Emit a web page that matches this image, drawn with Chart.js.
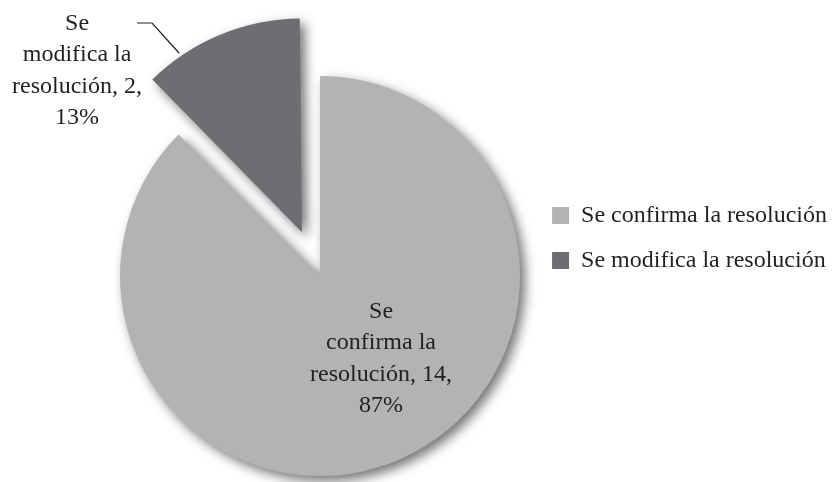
<!DOCTYPE html>
<html>
<head>
<meta charset="utf-8">
<script src="https://cdn.jsdelivr.net/npm/chart.js@4.4.0/dist/chart.umd.min.js"></script>
<style>
  html, body { margin: 0; padding: 0; background: #fff; }
  #wrap { width: 837px; height: 482px; }
</style>
</head>
<body>
<div id="wrap"><canvas id="pieChart" width="837" height="482"></canvas></div>
<script>
// --- DATOS ---
const CATEGORIES = ['Se confirma la resolución', 'Se modifica la resolución'];
const COUNTS = [14, 2];
const PERCENTS = ['87%', '13%'];
const LABEL_LINES = [
  ['Se', 'confirma la', 'resolución, 14,', '87%'],
  ['Se', 'modifica la', 'resolución, 2,', '13%']
];

const SLICE_COLORS = ['#b2b3b5', '#6d6e71'];
const TEXT_COLOR = '#231f20';
const FONT = "'Liberation Serif', 'DejaVu Serif', serif";

// sombra bajo las porciones
const shadowPlugin = {
  id: 'pieShadow',
  beforeDatasetsDraw(chart) {
    const ctx = chart.ctx;
    ctx.save();
    ctx.shadowColor = 'rgba(0,0,0,0.55)';
    ctx.shadowBlur = 12;
    ctx.shadowOffsetX = 5;
    ctx.shadowOffsetY = 5;
  },
  afterDatasetsDraw(chart) {
    chart.ctx.restore();
  }
};

// etiquetas de datos + línea guía (posiciones relativas al radio)
const labelPlugin = {
  id: 'sliceLabels',
  afterDraw(chart) {
    const ctx = chart.ctx;
    const arc = chart.getDatasetMeta(0).data[0];
    const cx = arc.x, cy = arc.y, r = arc.outerRadius;
    const spots = [[0.305, 0.21], [-1.215, -1.23]];
    const lineH = 31.3;

    ctx.save();
    ctx.font = `24px ${FONT}`;
    ctx.fillStyle = TEXT_COLOR;
    ctx.textAlign = 'center';
    ctx.textBaseline = 'alphabetic';
    LABEL_LINES.forEach((lines, i) => {
      const x = cx + spots[i][0] * r;
      const y0 = cy + spots[i][1] * r;
      lines.forEach((t, j) => ctx.fillText(t, x, y0 + j * lineH));
    });

    ctx.strokeStyle = TEXT_COLOR;
    ctx.lineWidth = 1.2;
    ctx.beginPath();
    ctx.moveTo(cx - 0.915 * r, cy - 1.265 * r);
    ctx.lineTo(cx - 0.84 * r, cy - 1.265 * r);
    ctx.lineTo(cx - 0.705 * r, cy - 1.115 * r);
    ctx.stroke();
    ctx.restore();
  }
};

new Chart(document.getElementById('pieChart'), {
  type: 'pie',
  data: {
    labels: CATEGORIES,
    datasets: [{
      data: COUNTS,
      backgroundColor: SLICE_COLORS,
      borderWidth: 0,
      offset: [0, 189]
    }]
  },
  options: {
    responsive: false,
    animation: false,
    radius: 200,
    layout: { padding: { left: 109, top: 70, right: 0, bottom: 0 } },
    plugins: {
      tooltip: { enabled: false },
      legend: {
        position: 'right',
        align: 'start',
        title: { display: true, text: '', font: { size: 12, lineHeight: 1 }, padding: { top: 100.5, bottom: 0 } },
        labels: {
          boxWidth: 17,
          boxHeight: 17,
          padding: 21,
          color: TEXT_COLOR,
          font: { family: FONT, size: 24 }
        }
      }
    }
  },
  plugins: [shadowPlugin, labelPlugin]
});
</script>
</body>
</html>
